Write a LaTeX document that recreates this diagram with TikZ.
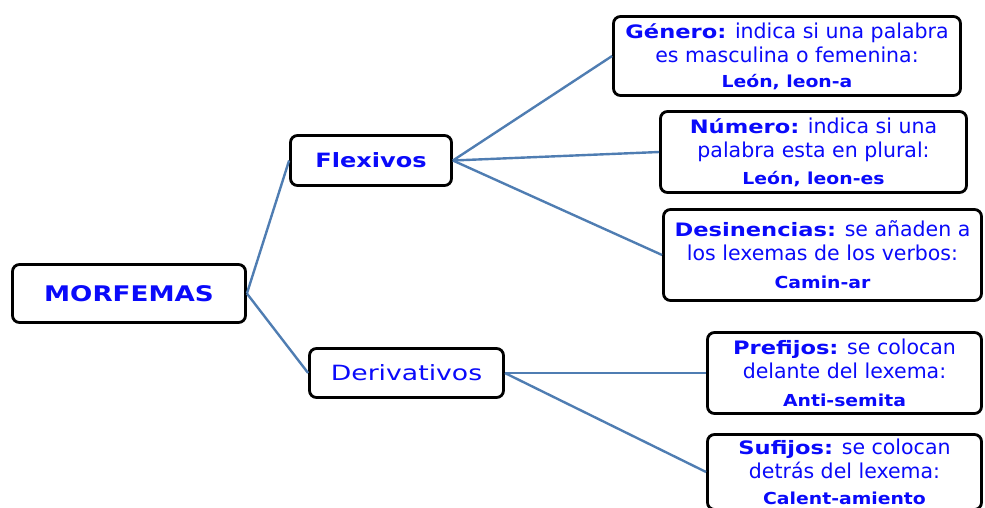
\documentclass[tikz,border=0pt]{standalone}
\usepackage{fontspec}
\setmainfont{DejaVu Sans}
\newfontfamily\stretchedA[FakeStretch=1.22]{DejaVu Sans}
\newfontfamily\stretchedB[FakeStretch=1.27]{DejaVu Sans}
\newfontfamily\stretchedC[FakeStretch=1.14]{DejaVu Sans}
\newcommand{\hdr}[1]{{\stretchedA\bfseries\fontsize{18.5}{24}\selectfont #1}}
\newcommand{\exmpl}[1]{{\stretchedC\bfseries\fontsize{16.5}{24}\selectfont #1}}
\definecolor{txtblue}{RGB}{10,10,250}
\definecolor{linkblue}{RGB}{79,125,178}
\begin{document}
\begin{tikzpicture}[x=1pt,y=-1pt,
  box/.style={draw=black, line width=2.8pt, rounded corners=7pt, fill=white,
    align=center, inner sep=0pt, text=txtblue,
    font=\fontsize{20.5}{24}\selectfont},
  link/.style={draw=linkblue, line width=2.4pt}]
\useasboundingbox (0,0) rectangle (985,507);
\begin{scope}
\clip (0,0) rectangle (985,507);
\node[box, minimum width=233pt, minimum height=58pt] (morf) at (129,293.5)
  {\stretchedA\bfseries\fontsize{21.5}{24}\selectfont MORFEMAS};
\node[box, minimum width=161pt, minimum height=50pt] (flex) at (371,160.5)
  {\stretchedA\bfseries\fontsize{19.7}{24}\selectfont Flexivos};
\node[box, minimum width=194pt, minimum height=49pt] (deriv) at (406.5,373)
  {\stretchedB\fontsize{21}{24}\selectfont Derivativos};
\node[box, minimum width=347pt, minimum height=79pt] (gen) at (787,56)
  {\hdr{Género:} indica si una palabra\\ es masculina o femenina:\\[1pt] \exmpl{León, leon-a}};
\node[box, minimum width=306pt, minimum height=81pt] (num) at (813.5,152)
  {\hdr{Número:} indica si una\\ palabra esta en plural:\\[3pt] \exmpl{León, leon-es}};
\node[box, minimum width=318pt, minimum height=91pt] (des) at (822.5,255)
  {\hdr{Desinencias:} se añaden a\\ los lexemas de los verbos:\\[4pt] \exmpl{Camin-ar}};
\node[box, minimum width=274pt, minimum height=81pt] (pre) at (844.5,373)
  {\hdr{Prefijos:} se colocan\\ delante del lexema:\\[4pt] \exmpl{Anti-semita}};
\node[box, minimum width=274pt, minimum height=75pt] (suf) at (844.5,472)
  {\hdr{Sufijos:} se colocan\\ detrás del lexema:\\[2pt] \exmpl{Calent-amiento}};
\path[link] (morf.east) -- (flex.west);
\path[link] (morf.east) -- (deriv.west);
\path[link] (flex.east) -- (gen.west);
\path[link] (flex.east) -- (num.west);
\path[link] (flex.east) -- (des.west);
\path[link] (deriv.east) -- (pre.west);
\path[link] (deriv.east) -- (suf.west);
\end{scope}
\end{tikzpicture}
\end{document}
